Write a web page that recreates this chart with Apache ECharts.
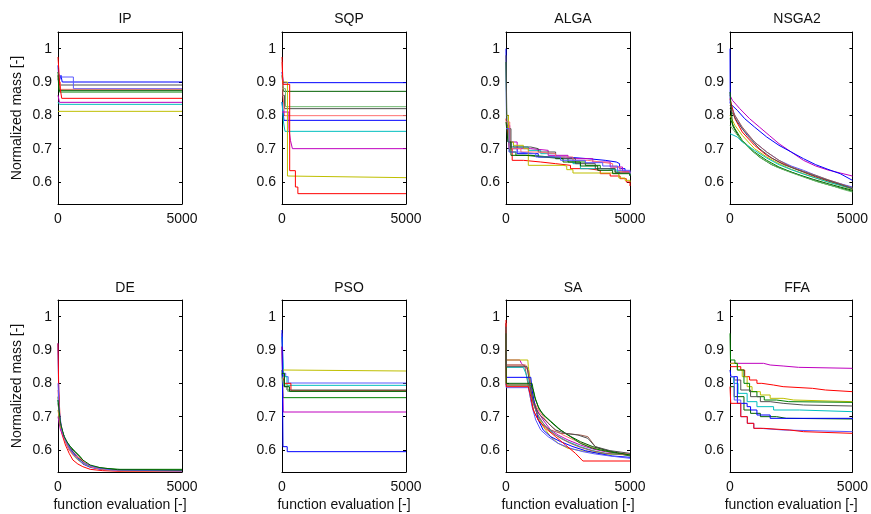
<!DOCTYPE html>
<html>
<head>
<meta charset="utf-8">
<script src="https://cdn.jsdelivr.net/npm/echarts@6/dist/echarts.min.js"></script>
<style>html,body{margin:0;padding:0;background:#fff}#c{width:871px;height:514px}</style>
</head>
<body>
<div id="c"></div>
<script>
// ---------- data ----------
const titles = ['IP', 'SQP', 'ALGA', 'NSGA2', 'DE', 'PSO', 'SA', 'FFA'];
const xTicks = [0, 5000];
const yTicks = [0.6, 0.7, 0.8, 0.9, 1];
const yName = 'Normalized mass [-]';
const xName = 'function evaluation [-]';

const ipRuns = [
  [[0,0.95],[40,0.9],[120,0.92],[170,0.9],[5000,0.9]],
  [[0,0.91],[60,0.891],[5000,0.891]],
  [[0,0.93],[80,0.915],[620,0.88],[5000,0.88]],
  [[0,0.9],[100,0.878],[5000,0.878]],
  [[0,0.93],[20,0.91],[50,0.87],[5000,0.87]],
  [[0,0.92],[40,0.875],[5000,0.875]],
  [[0,0.975],[30,0.94],[60,0.9],[90,0.88],[150,0.851],[5000,0.851]],
  [[0,0.86],[60,0.839],[5000,0.839]],
  [[0,0.84],[60,0.833],[5000,0.833]],
  [[0,0.812],[5000,0.812]]
];
const sqpRuns = [
  [[0,0.93],[50,0.898],[5000,0.898]],
  [[0,0.92],[60,0.872],[5000,0.872]],
  [[0,0.88],[140,0.826],[5000,0.826]],
  [[0,0.86],[100,0.82],[5000,0.82]],
  [[0,0.96],[40,0.86],[100,0.799],[5000,0.799]],
  [[0,0.84],[80,0.785],[5000,0.785]],
  [[0,0.84],[60,0.78],[120,0.752],[5000,0.752]],
  [[0,0.81],[280,0.76],[340,0.725],[420,0.7],[5000,0.7]],
  [[0,0.9],[220,0.618],[300,0.613],[5000,0.613]],
  [[0,0.975],[40,0.893],[310,0.634],[540,0.585],[640,0.565],[5000,0.565]]
];
const algaRuns = [
  [[0,1.0],[20,0.78],[90,0.72],[200,0.7],[450,0.685],[1300,0.675],[2400,0.67],[3300,0.665],[4000,0.66],[4450,0.655],[4580,0.64],[4800,0.63],[5000,0.62]],
  [[0,0.96],[30,0.76],[150,0.69],[400,0.68],[1000,0.675],[1800,0.67],[2500,0.66],[3200,0.65],[3800,0.64],[4400,0.63],[5000,0.62]],
  [[0,0.79],[60,0.75],[130,0.7],[250,0.665],[700,0.66],[1400,0.655],[2000,0.65],[2600,0.64],[3300,0.635],[3800,0.625],[4200,0.618],[4600,0.61],[4850,0.6],[5000,0.588]],
  [[0,0.78],[100,0.72],[300,0.705],[900,0.695],[1400,0.685],[2000,0.67],[2700,0.655],[3000,0.64],[4100,0.635],[4500,0.628],[5000,0.622]],
  [[0,0.77],[150,0.72],[450,0.7],[1000,0.695],[1700,0.68],[2500,0.67],[3500,0.66],[4200,0.645],[4700,0.632],[5000,0.628]],
  [[0,0.8],[100,0.72],[300,0.71],[700,0.7],[900,0.65],[2300,0.648],[2450,0.637],[2700,0.627],[4300,0.625],[4550,0.612],[4800,0.605],[5000,0.6]],
  [[0,0.98],[40,0.76],[200,0.705],[1000,0.7],[1300,0.69],[2000,0.67],[2800,0.655],[3600,0.64],[4400,0.628],[5000,0.62]],
  [[0,0.78],[150,0.7],[600,0.69],[1300,0.685],[2000,0.675],[2700,0.665],[3300,0.66],[3800,0.655],[4300,0.645],[4600,0.63],[5000,0.625]],
  [[0,0.78],[80,0.72],[200,0.68],[800,0.675],[1500,0.67],[2300,0.66],[3000,0.648],[3700,0.635],[4300,0.625],[5000,0.618]],
  [[0,0.76],[120,0.69],[500,0.685],[1200,0.675],[2200,0.665],[3200,0.658],[3900,0.648],[4500,0.635],[5000,0.625]]
];
const nsgaRuns = [
  [[0,0.86],[100,0.845],[400,0.82],[800,0.79],[1200,0.765],[1600,0.74],[2000,0.715],[2500,0.69],[3000,0.665],[3500,0.648],[4000,0.636],[4500,0.627],[5000,0.618]],
  [[0,1.0],[10,0.835],[300,0.815],[600,0.79],[1000,0.765],[1500,0.735],[2000,0.71],[2500,0.69],[3000,0.67],[3500,0.652],[4000,0.638],[4500,0.625],[5000,0.605]],
  [[0,0.84],[200,0.8],[500,0.76],[1000,0.72],[1500,0.69],[2000,0.665],[2500,0.648],[3000,0.635],[3500,0.62],[4000,0.606],[4500,0.595],[5000,0.585]],
  [[0,0.85],[200,0.79],[500,0.75],[1000,0.71],[1500,0.68],[2000,0.66],[2500,0.645],[3000,0.63],[3500,0.615],[4000,0.603],[4500,0.592],[5000,0.58]],
  [[0,0.83],[200,0.8],[500,0.765],[1000,0.72],[1500,0.69],[2000,0.665],[2500,0.645],[3000,0.632],[3500,0.62],[4000,0.607],[4500,0.595],[5000,0.582]],
  [[0,0.8],[200,0.77],[500,0.74],[1000,0.7],[1500,0.675],[2000,0.655],[2500,0.638],[3000,0.625],[3500,0.612],[4000,0.6],[4500,0.59],[5000,0.578]],
  [[0,0.79],[200,0.76],[500,0.725],[1000,0.69],[1500,0.665],[2000,0.645],[2500,0.63],[3000,0.616],[3500,0.603],[4000,0.592],[4500,0.582],[5000,0.572]],
  [[0,0.87],[100,0.77],[400,0.73],[800,0.7],[1200,0.675],[1700,0.652],[2200,0.637],[2800,0.622],[3400,0.608],[4000,0.595],[4500,0.585],[5000,0.575]],
  [[0,0.745],[300,0.735],[500,0.72],[1000,0.695],[1500,0.672],[2000,0.652],[2500,0.637],[3000,0.624],[3500,0.612],[4000,0.6],[4500,0.59],[5000,0.58]],
  [[0,0.82],[300,0.78],[700,0.74],[1200,0.7],[1700,0.672],[2200,0.652],[2700,0.638],[3200,0.625],[3700,0.612],[4200,0.6],[4600,0.59],[5000,0.58]],
  [[0,0.77],[300,0.74],[800,0.7],[1300,0.67],[1900,0.645],[2500,0.628],[3000,0.615],[3600,0.6],[4200,0.588],[4600,0.578],[5000,0.57]]
];
const deRuns = [
  [[0,0.92],[20,0.81],[60,0.68],[150,0.66],[300,0.625],[450,0.6],[600,0.59],[800,0.575],[1000,0.558],[1300,0.548],[1800,0.541],[2500,0.538],[5000,0.537]],
  [[0,0.76],[60,0.7],[150,0.66],[300,0.63],[500,0.61],[700,0.595],[900,0.58],[1100,0.56],[1400,0.55],[1900,0.545],[2500,0.542],[5000,0.542]],
  [[0,0.92],[30,0.78],[80,0.7],[150,0.65],[300,0.615],[450,0.59],[600,0.57],[800,0.558],[1000,0.55],[1300,0.542],[1800,0.538],[2500,0.536],[5000,0.535]],
  [[0,0.75],[80,0.68],[200,0.65],[350,0.625],[500,0.605],[700,0.585],[900,0.57],[1200,0.555],[1600,0.545],[2200,0.54],[5000,0.537]],
  [[0,0.7],[100,0.66],[250,0.635],[400,0.615],[600,0.595],[800,0.58],[1000,0.565],[1300,0.55],[1700,0.543],[2300,0.539],[5000,0.537]],
  [[0,0.72],[100,0.67],[250,0.64],[400,0.61],[600,0.585],[800,0.57],[1000,0.56],[1300,0.55],[1800,0.542],[2500,0.538],[5000,0.537]],
  [[0,0.74],[80,0.69],[200,0.65],[350,0.62],[550,0.598],[750,0.58],[1000,0.565],[1300,0.552],[1700,0.544],[2300,0.54],[5000,0.538]],
  [[0,0.78],[50,0.7],[150,0.66],[300,0.625],[450,0.6],[600,0.585],[900,0.575],[1100,0.56],[1400,0.548],[1900,0.541],[2600,0.537],[5000,0.536]],
  [[0,0.8],[50,0.72],[150,0.66],[300,0.63],[500,0.6],[700,0.58],[900,0.565],[1200,0.555],[1600,0.546],[2200,0.54],[5000,0.537]],
  [[0,0.75],[100,0.68],[250,0.64],[400,0.62],[600,0.6],[800,0.585],[1000,0.57],[1300,0.555],[1700,0.547],[2400,0.541],[5000,0.54]]
];
const psoRuns = [
  [[0,0.95],[60,0.83],[150,0.82],[250,0.801],[5000,0.801]],
  [[0,0.94],[60,0.82],[200,0.794],[5000,0.794]],
  [[0,0.84],[50,0.837],[5000,0.837]],
  [[0,0.91],[30,0.82],[100,0.8],[360,0.778],[5000,0.778]],
  [[0,0.83],[80,0.79],[200,0.78],[5000,0.78]],
  [[0,0.84],[40,0.757],[5000,0.757]],
  [[0,0.91],[50,0.714],[5000,0.714]],
  [[0,0.96],[40,0.61],[210,0.595],[5000,0.595]],
  [[0,0.82],[60,0.795],[230,0.776],[5000,0.776]],
  [[0,0.83],[100,0.79],[300,0.776],[5000,0.776]]
];
const saRuns = [
  [[0,0.98],[10,0.87],[560,0.87],[620,0.86],[900,0.84],[1000,0.78],[1100,0.75],[1250,0.72],[1500,0.69],[1800,0.66],[2100,0.645],[2500,0.63],[3000,0.615],[3500,0.603],[4000,0.595],[4500,0.59],[5000,0.587]],
  [[0,0.97],[10,0.87],[880,0.87],[900,0.85],[1000,0.8],[1150,0.74],[1300,0.7],[1500,0.67],[1800,0.64],[2100,0.62],[2500,0.605],[3000,0.598],[3500,0.593],[4000,0.588],[5000,0.585]],
  [[0,0.98],[10,0.855],[800,0.855],[900,0.83],[1000,0.79],[1100,0.75],[1300,0.72],[1600,0.69],[1900,0.665],[2300,0.645],[2800,0.628],[3300,0.612],[3800,0.6],[4400,0.592],[5000,0.588]],
  [[0,0.98],[10,0.855],[750,0.855],[880,0.8],[1000,0.75],[1150,0.71],[1400,0.68],[1800,0.66],[2200,0.65],[2600,0.648],[3000,0.645],[3300,0.64],[3600,0.61],[4000,0.6],[4500,0.59],[5000,0.585]],
  [[0,0.97],[10,0.848],[700,0.848],[800,0.83],[950,0.79],[1100,0.74],[1300,0.7],[1600,0.67],[2000,0.645],[2500,0.625],[3000,0.61],[3500,0.598],[4000,0.59],[5000,0.585]],
  [[0,0.9],[10,0.818],[1000,0.818],[1050,0.78],[1150,0.74],[1300,0.69],[1500,0.66],[1800,0.64],[2200,0.625],[2700,0.61],[3200,0.598],[3700,0.59],[4300,0.582],[5000,0.578]],
  [[0,0.96],[10,0.795],[1000,0.795],[1100,0.78],[1200,0.75],[1350,0.72],[1600,0.7],[1900,0.68],[2200,0.66],[2600,0.64],[3000,0.62],[3500,0.605],[4000,0.597],[4500,0.59],[5000,0.582]],
  [[0,0.98],[10,0.795],[950,0.795],[1000,0.77],[1100,0.74],[1250,0.71],[1500,0.68],[1800,0.655],[2200,0.635],[2600,0.62],[3000,0.608],[3500,0.597],[4000,0.59],[5000,0.585]],
  [[0,0.8],[10,0.787],[900,0.787],[950,0.77],[1050,0.73],[1200,0.69],[1400,0.66],[1700,0.64],[2100,0.62],[2600,0.605],[3100,0.595],[3600,0.588],[4200,0.582],[5000,0.575]],
  [[0,0.99],[10,0.79],[900,0.79],[1000,0.76],[1100,0.72],[1300,0.69],[1600,0.665],[2000,0.64],[2400,0.615],[2800,0.59],[3100,0.567],[5000,0.567]],
  [[0,0.95],[10,0.8],[1050,0.8],[1150,0.76],[1300,0.73],[1500,0.705],[1800,0.685],[2100,0.665],[2500,0.645],[3000,0.625],[3500,0.61],[4000,0.6],[4500,0.592],[5000,0.585]],
  [[0,0.97],[10,0.85],[850,0.85],[950,0.8],[1100,0.745],[1300,0.71],[1700,0.68],[2000,0.66],[2400,0.65],[2900,0.645],[3300,0.635],[3600,0.61],[4200,0.598],[5000,0.59]]
];
const ffaRuns = [
  [[0,0.86],[1370,0.855],[1640,0.852],[2170,0.848],[2800,0.845],[5000,0.845]],
  [[0,0.85],[440,0.84],[600,0.82],[800,0.81],[1100,0.8],[1300,0.795],[1773,0.79],[2170,0.785],[3370,0.78],[3900,0.775],[5000,0.775]],
  [[0,0.86],[300,0.84],[500,0.82],[700,0.79],[900,0.775],[1240,0.765],[1640,0.755],[2170,0.75],[2600,0.745],[5000,0.745]],
  [[0,0.95],[20,0.87],[200,0.86],[300,0.84],[570,0.8],[800,0.775],[1100,0.76],[1400,0.75],[1900,0.745],[2400,0.743],[5000,0.743]],
  [[0,0.82],[173,0.81],[440,0.78],[840,0.76],[1240,0.745],[1640,0.74],[2170,0.735],[3000,0.732],[5000,0.732]],
  [[0,0.82],[150,0.8],[330,0.77],[700,0.745],[1100,0.73],[1780,0.72],[2840,0.715],[5000,0.713]],
  [[0,0.79],[170,0.76],[570,0.72],[840,0.71],[1240,0.7],[1900,0.695],[2300,0.693],[5000,0.693]],
  [[0,0.84],[40,0.82],[300,0.74],[700,0.73],[840,0.72],[1100,0.705],[1640,0.695],[5000,0.692]],
  [[0,0.82],[173,0.75],[440,0.7],[707,0.68],[973,0.665],[1240,0.66],[2170,0.655],[5000,0.654]],
  [[0,0.79],[30,0.74],[440,0.7],[707,0.68],[973,0.665],[1373,0.66],[2440,0.655],[3000,0.65],[5000,0.65]]
];
const allRuns = [ipRuns, sqpRuns, algaRuns, nsgaRuns, deRuns, psoRuns, saRuns, ffaRuns];

// ---------- styles ----------
const palette = {
  b:'#0000ff', g:'#008000', r:'#ff0000', c:'#00bfbf', m:'#bf00bf', y:'#bfbf00', k:'#505050',
  lb:'#5a5aff', lg:'#70b870', lr:'#ff7070', dg:'#006000', br:'#a06050'
};
const runColors = [
  ['b','k','lb','lr','g','dg','r','m','c','y'],
  ['b','dg','lg','k','lr','b','c','m','y','r'],
  ['b','g','r','c','m','y','k','lr','dg','lb'],
  ['m','b','lb','r','br','y','g','dg','c','k','lg'],
  ['b','g','r','c','m','y','k','lr','lb','dg'],
  ['lb','c','y','r','k','g','m','b','lg','dg'],
  ['m','y','lr','br','c','b','g','br','lb','r','dg','k'],
  ['m','r','y','g','k','c','dg','b','lb','r']
];
const stepMode = ['end','end','end',false,false,'end',false,'end'];

const colLeft = [58, 282, 506, 730];
const rowTop = [32, 300];
const titleTop = [7, 276];
const W = 124, H = 172;
const yMin = 0.534, yMax = 1.05;
const FONT = '"Liberation Sans", Arial, sans-serif';
const FS = 14;
const TXT = '#111';

const grids = [], xAxes = [], yAxes = [], series = [], titleArr = [];
for (let i = 0; i < 8; i++) {
  const row = Math.floor(i / 4), col = i % 4;
  grids.push({left: colLeft[col], top: rowTop[row], width: W, height: H, show: false});
  titleArr.push({
    text: titles[i], left: colLeft[col] + W / 2, top: titleTop[row], textAlign: 'center',
    textStyle: {fontFamily: FONT, fontSize: FS, fontWeight: 'normal', color: TXT}
  });
  xAxes.push({
    type: 'value', gridIndex: i, min: xTicks[0], max: xTicks[xTicks.length - 1],
    interval: xTicks[1] - xTicks[0],
    name: row === 1 ? xName : '', nameLocation: 'middle', nameGap: 26,
    nameTextStyle: {fontFamily: FONT, fontSize: FS, color: TXT},
    axisLine: {show: true, lineStyle: {color: '#000', width: 1}},
    axisTick: {show: false},
    axisLabel: {fontFamily: FONT, fontSize: FS, color: TXT, margin: 8, showMinLabel: true, showMaxLabel: true,
      formatter: v => String(v)},
    splitLine: {show: false}
  });
  xAxes.push({
    type: 'value', gridIndex: i, position: 'top', min: xTicks[0], max: xTicks[xTicks.length - 1],
    axisLine: {show: true, lineStyle: {color: '#000', width: 1}},
    axisTick: {show: false}, axisLabel: {show: false}, splitLine: {show: false}
  });
  yAxes.push({
    type: 'value', gridIndex: i, min: yMin, max: yMax,
    name: col === 0 ? yName : '', nameLocation: 'middle', nameGap: 34, nameRotate: 90,
    nameTextStyle: {fontFamily: FONT, fontSize: FS, color: TXT},
    axisLine: {show: true, onZero: false, lineStyle: {color: '#000', width: 1}},
    axisTick: {show: true, inside: true, length: 3, customValues: yTicks, lineStyle: {color: '#000'}},
    axisLabel: {fontFamily: FONT, fontSize: FS, color: TXT, margin: 6, customValues: yTicks,
      formatter: v => String(+v.toFixed(2))},
    splitLine: {show: false}
  });
  yAxes.push({
    type: 'value', gridIndex: i, position: 'right', min: yMin, max: yMax,
    axisLine: {show: true, onZero: false, lineStyle: {color: '#000', width: 1}},
    axisTick: {show: true, inside: true, length: 3, customValues: yTicks, lineStyle: {color: '#000'}},
    axisLabel: {show: false}, splitLine: {show: false}
  });
  allRuns[i].forEach((run, j) => {
    const col2 = palette[runColors[i][j % runColors[i].length]];
    series.push({
      type: 'line', xAxisIndex: 2 * i, yAxisIndex: 2 * i, data: run,
      step: stepMode[i], symbol: 'none', silent: true,
      lineStyle: {color: col2, width: 1}, itemStyle: {color: col2}
    });
  });
}

const chart = echarts.init(document.getElementById('c'), null, {renderer: 'canvas'});
chart.setOption({
  animation: false,
  backgroundColor: '#fff',
  title: titleArr,
  grid: grids,
  xAxis: xAxes,
  yAxis: yAxes,
  series: series
});
</script>
</body>
</html>
